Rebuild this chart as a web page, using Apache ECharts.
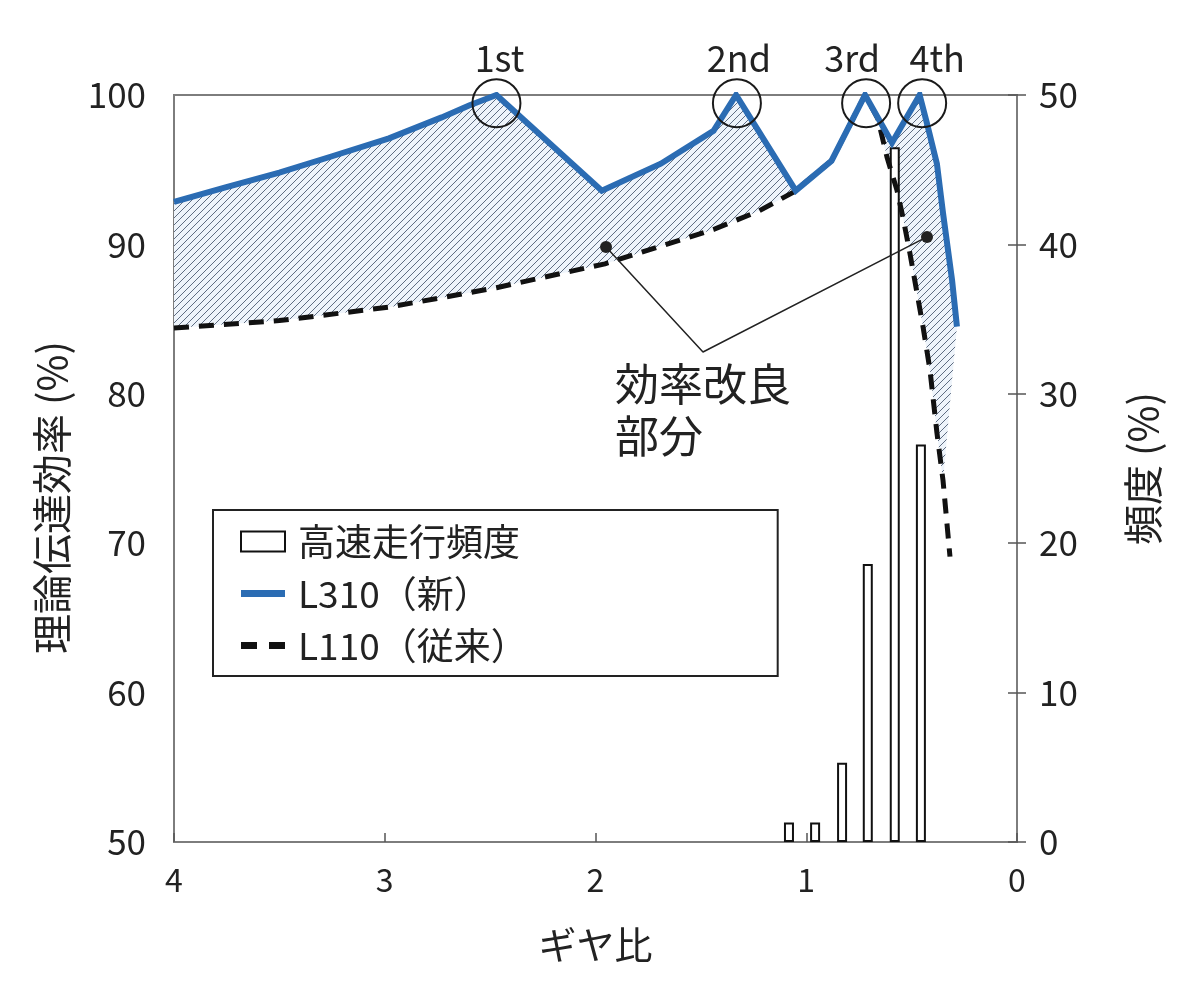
<!DOCTYPE html>
<html>
<head>
<meta charset="utf-8">
<script src="https://cdn.jsdelivr.net/npm/echarts/dist/echarts.min.js"></script>
<style>html,body{margin:0;padding:0;background:#fff;}#c{width:1200px;height:1000px;}</style>
</head>
<body>
<div id="c"></div>
<script>
// ---- data ----
const l310Ratio = [4.0, 3.76, 3.5, 3.25, 2.98, 2.73, 2.6, 2.47, 1.97, 1.69, 1.44, 1.333, 1.05, 0.88, 0.721, 0.593, 0.462, 0.427, 0.38, 0.351, 0.308, 0.285];
const l310Eff   = [92.85, 93.8, 94.8, 95.9, 97.1, 98.5, 99.3, 100, 93.6, 95.4, 97.6, 100, 93.6, 95.6, 100, 96.8, 100, 98.1, 95.4, 92.1, 87.6, 84.5];
const l110Ratio = [4.0, 3.5, 2.98, 2.47, 1.955, 1.44, 1.23, 1.06, 0.88, 0.721, 0.66, 0.617, 0.569, 0.541, 0.508, 0.446, 0.413, 0.38, 0.351, 0.318];
const l110Eff   = [84.4, 84.9, 85.8, 87.1, 88.7, 91.0, 92.2, 93.5, 95.6, 100, 98.4, 95.85, 93.6, 91.8, 89.4, 84.5, 81.6, 77.4, 74.2, 69.1];
const hatchEndRatio = 0.35;
const freqRatio = [1.082, 0.958, 0.83, 0.708, 0.58, 0.456];
const freqValue = [1.3, 1.3, 5.3, 18.6, 46.5, 26.6];
const gearLabels = ['1st', '2nd', '3rd', '4th'];
const gearCircleRatio = [2.47, 1.329, 0.716, 0.45];
const gearCircleEff = [99.45, 99.45, 99.45, 99.45];
const leaderRatio = [1.95, 1.49, 0.427];
const leaderEff = [89.83, 82.8, 90.5];
const annotationText = '効率改良\n部分';
const xTicks = [0, 1, 2, 3, 4];

const zip = (a, b) => a.map((v, i) => [v, b[i]]);
const l310 = zip(l310Ratio, l310Eff);
const l110 = zip(l110Ratio, l110Eff);
const leader = zip(leaderRatio, leaderEff);
const fillPoly = l310.concat(l110.filter(p => p[0] >= hatchEndRatio).reverse());

// hatch pattern
const pc = document.createElement('canvas');
pc.width = 7; pc.height = 7;
const pctx = pc.getContext('2d');
pctx.fillStyle = '#eef4fb';
pctx.fillRect(0, 0, 7, 7);
pctx.strokeStyle = '#5f6d82';
pctx.lineWidth = 1.0;
pctx.beginPath();
pctx.moveTo(0, 7); pctx.lineTo(7, 0);
pctx.moveTo(-1, 1); pctx.lineTo(1, -1);
pctx.moveTo(6, 8); pctx.lineTo(8, 6);
pctx.stroke();

const FONT = '"Noto Sans CJK JP", "Noto Sans", sans-serif';
const BLUE = '#2b6cb3';
const chart = echarts.init(document.getElementById('c'));
chart.setOption({
  backgroundColor: '#fff',
  textStyle: { fontFamily: FONT, color: '#222' },
  grid: { left: 174, right: 183, top: 95, bottom: 158, show: true, borderColor: '#7d7d7d', borderWidth: 2 },
  legend: {
    orient: 'vertical', left: 213, top: 510,
    padding: [13, 250, 12, 27],
    itemGap: 15, itemWidth: 44, itemHeight: 20,
    symbolKeepAspect: true,
    borderColor: '#222', borderWidth: 2,
    textStyle: { fontSize: 37, fontFamily: FONT, color: '#222', padding: [0, 0, 0, 8] },
    data: [
      { name: '高速走行頻度', icon: 'rect' },
      { name: 'L310（新）', icon: 'path://M0,0h44v7h-44z' },
      { name: 'L110（従来）', icon: 'path://M0,0h16v7h-16zM28,0h16v7h-16z' }
    ]
  },
  xAxis: {
    type: 'value', min: 0, max: 4, interval: 1, inverse: true,
    name: 'ギヤ比', nameLocation: 'middle', nameGap: 84,
    nameTextStyle: { fontSize: 38, color: '#222', fontFamily: FONT },
    axisLine: { show: true, lineStyle: { color: '#7d7d7d', width: 2 } },
    axisTick: { show: true, inside: true, length: 9, lineStyle: { color: '#555', width: 1.5 } },
    axisLabel: { fontSize: 32, color: '#222', margin: 22, formatter: v => xTicks.includes(v) ? String(v) : '' },
    splitLine: { show: false }
  },
  yAxis: [
    {
      type: 'value', min: 50, max: 100, interval: 10, position: 'left',
      name: '理論伝達効率 (%)', nameLocation: 'middle', nameGap: 102, nameRotate: 90,
      nameTextStyle: { fontSize: 40, color: '#222', fontFamily: FONT, padding: [0, 58, 0, 0] },
      axisLine: { show: true, lineStyle: { color: '#7d7d7d', width: 2 } },
      axisTick: { show: true, inside: true, length: 9, lineStyle: { color: '#555', width: 1.5 } },
      axisLabel: { fontSize: 35, color: '#222', margin: 28 },
      splitLine: { show: false }
    },
    {
      type: 'value', min: 0, max: 50, interval: 10, position: 'right',
      name: '頻度 (%)', nameLocation: 'middle', nameGap: 106, nameRotate: 90,
      nameTextStyle: { fontSize: 40, color: '#222', fontFamily: FONT },
      axisLine: { show: true, lineStyle: { color: '#7d7d7d', width: 2 } },
      axisTick: { show: true, inside: true, length: 9, lineStyle: { color: '#555', width: 1.5 } },
      axisLabel: { fontSize: 35, color: '#222', margin: 22 },
      splitLine: { show: false }
    }
  ],
  series: [
    {
      name: 'fill', type: 'custom', z: 1, silent: true,
      data: fillPoly,
      encode: { x: 0, y: 1 },
      renderItem: function (params, api) {
        if (params.dataIndex !== 0) return null;
        const pts = fillPoly.map(p => api.coord(p));
        return { type: 'polygon', shape: { points: pts }, style: { fill: { image: pc, repeat: 'repeat' }, stroke: null } };
      }
    },
    {
      name: '高速走行頻度', type: 'bar', yAxisIndex: 1, z: 2, barWidth: 10,
      data: zip(freqRatio, freqValue),
      itemStyle: { color: '#fff', borderColor: '#111', borderWidth: 2 }
    },
    {
      name: 'L110（従来）', type: 'line', z: 3, data: l110, symbol: 'none', smooth: false,
      lineStyle: { color: '#111', width: 5, type: [15, 10] },
      itemStyle: { color: '#111' }
    },
    {
      name: 'L310（新）', type: 'line', z: 4, data: l310, symbol: 'none', smooth: false,
      lineStyle: { color: BLUE, width: 6, join: 'miter' },
      itemStyle: { color: BLUE }
    },
    {
      name: 'leader', type: 'line', z: 5, symbol: 'none', silent: true,
      data: leader,
      lineStyle: { color: '#222', width: 1.5 }
    },
    {
      name: 'dots', type: 'scatter', z: 6, silent: true, symbolSize: 12,
      data: [leader[0], leader[2]],
      itemStyle: { color: '#222', opacity: 1 }
    },
    {
      name: 'annotation', type: 'scatter', z: 6, silent: true, symbolSize: 1,
      data: [leader[1]],
      itemStyle: { color: 'rgba(0,0,0,0)', opacity: 1 },
      label: { show: true, position: 'bottom', distance: 6, align: 'left', offset: [-88, 0],
        formatter: annotationText, fontSize: 44, lineHeight: 52, color: '#222', fontFamily: FONT }
    },
    {
      name: 'gears', type: 'scatter', z: 6, clip: false, silent: true, symbolSize: 48,
      data: zip(gearCircleRatio, gearCircleEff).map((p, i) => ({
        value: p,
        label: { show: true, position: 'top', distance: 2, formatter: gearLabels[i],
          offset: [[3, 0], [2, 0], [-14, 0], [15, 0]][i] }
      })),
      itemStyle: { color: 'rgba(0,0,0,0)', borderColor: '#1a1a1a', borderWidth: 2, opacity: 1 },
      label: { fontSize: 36, color: '#222', fontFamily: FONT }
    }
  ]
});
</script>
</body>
</html>
